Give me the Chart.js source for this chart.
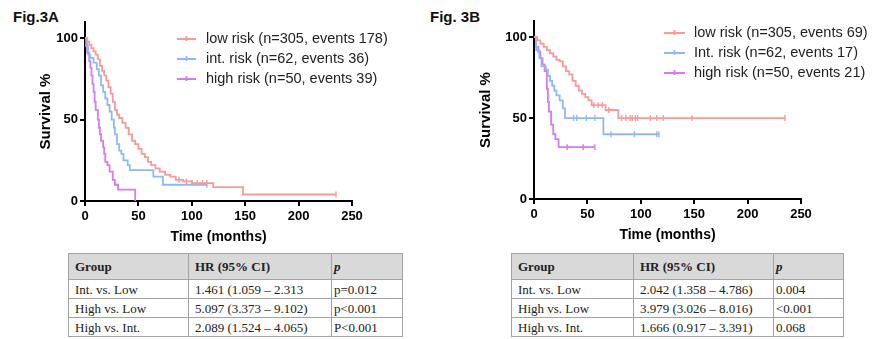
<!DOCTYPE html>
<html>
<head>
<meta charset="utf-8">
<script src="https://cdn.jsdelivr.net/npm/chart.js@4.4.0/dist/chart.umd.min.js"></script>
<style>
  body { margin: 0; width: 872px; height: 339px; background: #fff; position: relative; overflow: hidden;
         font-family: "Liberation Sans", Arial, sans-serif; }
  .fig { position: absolute; top: 8px; font-weight: bold; font-size: 15px; color: #111; line-height: 17px; }
  canvas { position: absolute; top: 0; }
  table { position: absolute; top: 253px; border-collapse: collapse; table-layout: fixed;
          font-family: "Liberation Serif", "Times New Roman", serif; font-size: 13px; color: #222; }
  th, td { border: 1px solid #a3a3a3; padding: 0 0 0 6px; text-align: left; font-weight: normal; height: 18px; line-height: 15px; }
  th { background: #d9d9d9; font-weight: bold; height: 25px; vertical-align: middle; }
  td.p, th.p { padding-left: 2px; }
</style>
</head>
<body>
<div class="fig" style="left:13px">Fig.3A</div>
<div class="fig" style="left:430px">Fig. 3B</div>
<canvas id="chartA" width="436" height="250" style="left:0"></canvas>
<canvas id="chartB" width="423" height="248" style="left:449px"></canvas>

<table style="left:68px;width:334px">
  <colgroup><col style="width:120px"><col style="width:143px"><col style="width:71px"></colgroup>
  <tr><th>Group</th><th>HR (95% CI)</th><th class="p"><i>p</i></th></tr>
  <tr><td>Int. vs. Low</td><td>1.461 (1.059 – 2.313</td><td class="p">p=0.012</td></tr>
  <tr><td>High vs. Low</td><td>5.097 (3.373 – 9.102)</td><td class="p">p&lt;0.001</td></tr>
  <tr><td>High vs. Int.</td><td>2.089 (1.524 – 4.065)</td><td class="p">P&lt;0.001</td></tr>
</table>
<table style="left:511px;width:332px">
  <colgroup><col style="width:122px"><col style="width:140px"><col style="width:70px"></colgroup>
  <tr><th>Group</th><th>HR (95% CI)</th><th class="p"><i>p</i></th></tr>
  <tr><td>Int. vs. Low</td><td>2.042 (1.358 – 4.786)</td><td class="p">0.004</td></tr>
  <tr><td>High vs. Low</td><td>3.979 (3.026 – 8.016)</td><td class="p">&lt;0.001</td></tr>
  <tr><td>High vs. Int.</td><td>1.666 (0.917 – 3.391)</td><td class="p">0.068</td></tr>
</table>

<script>
// Axis ticks (both panels)
const xTicks = [0, 50, 100, 150, 200, 250];
const yTicks = [0, 50, 100];

// Fig.3A - step points (time in months, survival %), last point = end of follow-up
const lowATime = [0, 2, 4, 6, 8, 10, 12, 14, 16, 18, 20, 22, 24, 26, 28, 30, 32, 35, 38, 41, 44, 47, 50, 53, 56, 59, 62, 66, 70, 75, 80, 85, 92, 100, 120, 148, 235];
const lowASurv = [100, 98, 96, 94, 92, 90, 87, 83, 80, 77, 74, 70, 66, 61, 56, 53, 51, 48, 45, 41, 37, 35, 32, 29, 27, 24, 22, 20, 18, 16, 15, 13, 12, 11, 8.5, 4, 4];
const lowACensor = [88, 95, 100, 105, 110, 114, 235];

const intATime = [0, 2, 3, 5, 8, 11, 13, 15, 17, 19, 21, 23, 25, 27, 28, 30, 32, 34, 36, 40, 42, 64, 73, 114];
const intASurv = [100, 95, 90, 88, 85, 81, 77, 71, 67, 63, 59, 55, 50, 45, 41, 35, 31, 29, 25, 22, 19, 15, 10, 10];
const intACensor = [114];

const highATime = [0, 1, 2, 4, 5, 6, 7, 8, 9, 10, 12, 13, 14, 15, 17, 18, 19, 21, 23, 26, 28, 31, 47];
const highASurv = [100, 95, 91, 86, 82, 77, 72, 67, 61, 56, 50, 45, 41, 37, 33, 29, 24, 22, 18, 13, 10, 7, 0];
const highACensor = [];

// Fig. 3B
const lowBTime = [0, 3, 6, 9, 12, 15, 18, 21, 24, 27, 30, 33, 36, 39, 42, 45, 48, 51, 54, 67, 79, 235];
const lowBSurv = [100, 98, 96, 94, 92, 90, 88, 86, 85, 82, 79, 77, 73, 70, 67, 65, 63, 61, 58, 55, 50, 50];
const lowBCensor = [56, 60, 64, 70, 82, 86, 90, 92, 95, 97, 109, 115, 121, 148, 235];

const intBTime = [0, 2, 5, 7, 11, 13, 15, 17, 19, 21, 24, 27, 29, 65, 117];
const intBSurv = [100, 92, 87, 82, 80, 76, 73, 70, 67, 64, 61, 56, 50, 40, 40];
const intBCensor = [37, 40, 49, 57, 72, 94, 115, 117];

const highBTime = [0, 2, 4, 6, 8, 10, 12, 13, 14, 16, 18, 20, 23, 57];
const highBSurv = [100, 94, 91, 87, 83, 79, 68, 60, 54, 46, 40, 37, 32, 32];
const highBCensor = [31, 46, 57];

const legendA = ['low risk (n=305, events 178)', 'int. risk (n=62, events 36)', 'high risk (n=50, events 39)'];
const legendB = ['low risk (n=305, events 69)', 'Int. risk (n=62, events 17)', 'high risk (n=50, events 21)'];

const colors = ['#f89a9a', '#8fb9f6', '#d47cf1'];
const FONT = '"Liberation Sans", Arial, sans-serif';

function survAt(times, surv, t) {
    let s = surv[0];
    for (let i = 0; i < times.length; i++) {
        if (times[i] <= t) s = surv[i];
    }
    return s;
}

function kmDatasets(color, times, surv, censor) {
    return [{
        data: times.map((t, i) => ({ x: t, y: surv[i] })),
        borderColor: color,
        borderWidth: 1.8,
        stepped: true,
        pointRadius: 0,
        fill: false
    }, {
        censor: true,
        data: censor.map(t => ({ x: t, y: survAt(times, surv, t) })),
        showLine: false,
        pointStyle: 'line',
        rotation: 90,
        pointRadius: 3,
        borderColor: color,
        borderWidth: 1.4
    }];
}

// draws the legend inside the plot area, line + censor tick + text
const kmLegend = {
    id: 'kmLegend',
    afterDatasetsDraw(chart, args, opts) {
        const { ctx, chartArea } = chart;
        const series = chart.data.datasets.filter(ds => !ds.censor);
        ctx.save();
        ctx.font = '14.5px ' + FONT;
        ctx.textBaseline = 'middle';
        opts.labels.forEach((text, i) => {
            const x = chartArea.left + opts.x;
            const y = chartArea.top + opts.y + i * 20;
            ctx.strokeStyle = series[i].borderColor;
            ctx.lineWidth = 1.8;
            ctx.beginPath();
            ctx.moveTo(x, y);
            ctx.lineTo(x + opts.len, y);
            ctx.moveTo(x + opts.len / 2, y - 3);
            ctx.lineTo(x + opts.len / 2, y + 2);
            ctx.stroke();
            ctx.fillStyle = '#222';
            ctx.fillText(text, x + opts.textX, y);
        });
        ctx.restore();
    }
};

function createKM(canvasId, series, legend, layout) {
    const datasets = [];
    series.forEach((s, i) => datasets.push(...kmDatasets(colors[i], s[0], s[1], s[2])));

    return new Chart(document.getElementById(canvasId), {
        type: 'line',
        data: { datasets: datasets },
        plugins: [kmLegend],
        options: {
            responsive: false,
            animation: false,
            layout: { padding: { left: layout.padLeft, top: layout.padTop, right: layout.padRight, bottom: 0 } },
            plugins: {
                legend: { display: false },
                tooltip: { enabled: false },
                kmLegend: { labels: legend, x: layout.legX, y: layout.legY, len: layout.legLen, textX: layout.legText }
            },
            scales: {
                x: {
                    type: 'linear',
                    min: 0,
                    max: 250,
                    afterBuildTicks: scale => { scale.ticks = xTicks.map(v => ({ value: v })); },
                    afterFit: scale => { scale.height = 49; },
                    grid: { drawOnChartArea: false, color: '#000', lineWidth: 2, tickLength: 5 },
                    border: { color: '#000', width: 2 },
                    ticks: { color: '#000', maxRotation: 0, padding: 3, font: { family: FONT, size: 13, weight: 'bold' } },
                    title: { display: true, text: 'Time (months)', color: '#000', font: { family: FONT, size: 14, weight: 'bold' } }
                },
                y: {
                    min: 0,
                    max: 110,
                    afterBuildTicks: scale => { scale.ticks = yTicks.map(v => ({ value: v })); },
                    afterFit: scale => { scale.width = layout.yWidth; },
                    grid: { drawOnChartArea: false, color: '#000', lineWidth: 2, tickLength: 5 },
                    border: { color: '#000', width: 2 },
                    ticks: { color: '#000', padding: 2, font: { family: FONT, size: 13, weight: 'bold' } },
                    title: { display: true, text: 'Survival %', color: '#000', font: { family: FONT, size: 15, weight: 'bold' } }
                }
            }
        }
    });
}

createKM('chartA',
    [[lowATime, lowASurv, lowACensor], [intATime, intASurv, intACensor], [highATime, highASurv, highACensor]],
    legendA,
    { padLeft: 33, yWidth: 52, padTop: 22, padRight: 84, legX: 92, legY: 17, legLen: 19, legText: 29 });

createKM('chartB',
    [[lowBTime, lowBSurv, lowBCensor], [intBTime, intBSurv, intBCensor], [highBTime, highBSurv, highBCensor]],
    legendB,
    { padLeft: 24, yWidth: 61, padTop: 21, padRight: 71, legX: 130, legY: 12, legLen: 21, legText: 30 });
</script>
</body>
</html>
